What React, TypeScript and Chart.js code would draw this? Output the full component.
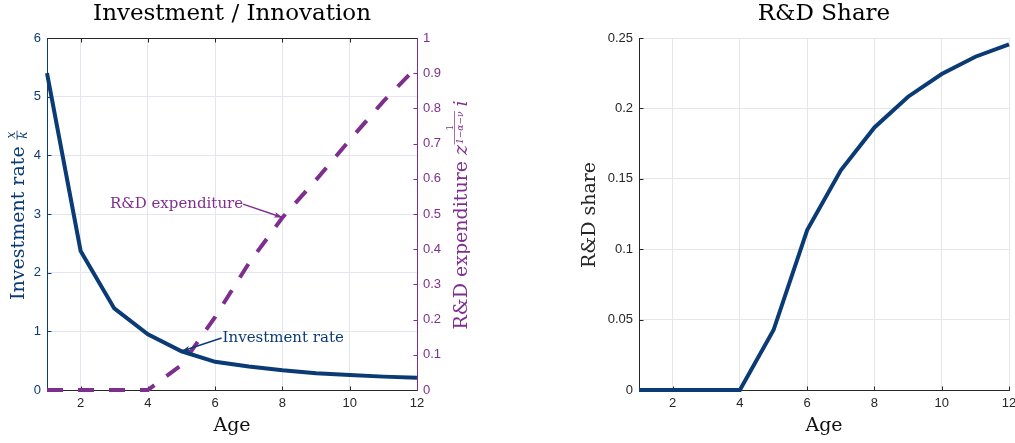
import React, { useEffect, useRef } from "react";
import { Chart, registerables } from "chart.js";

Chart.register(...registerables);

// ---------- data ----------
const ages = [1, 2, 3, 4, 5, 6, 7, 8, 9, 10, 11, 12];
const investmentRate = [5.4, 2.37, 1.39, 0.95, 0.66, 0.48, 0.4, 0.335, 0.285, 0.255, 0.228, 0.21];
const rdExpenditure = [0, 0, 0, 0, 0.071, 0.208, 0.36, 0.49, 0.597, 0.71, 0.82, 0.918];
const rdShare = [0, 0, 0, 0, 0.0426, 0.1136, 0.156, 0.1865, 0.2083, 0.2244, 0.2367, 0.2455];

const ageTicks = [2, 4, 6, 8, 10, 12];
const investTicks = [0, 1, 2, 3, 4, 5, 6];
const rdExpTicks = [0, 0.1, 0.2, 0.3, 0.4, 0.5, 0.6, 0.7, 0.8, 0.9, 1];
const rdShareTicks = [0, 0.05, 0.1, 0.15, 0.2, 0.25];

const leftTitle = "Investment / Innovation";
const rightTitle = "R&D Share";
const xTitle = "Age";
const leftYTitle = "Investment rate ";
const rightY1Title = "R&D expenditure ";
const shareYTitle = "R&D share";

// annotation text anchors (data coordinates); arrow tips come from the series
const rdNote = { text: "R&D expenditure", x: 6.83, y: 0.528, tipIndex: 7 };
const invNote = { text: "Investment rate", x: 6.22, y: 0.886, tipIndex: 4 };

// ---------- styles ----------
const BLUE = "#0b3b75";
const PURPLE = "#7e2f8e";
const DARK = "#262626";
const GRID_L = "#e3e7ed";
const GRID_R = "#e6e6e6";
const SERIF = '"DejaVu Serif"';
const SANS = '"Liberation Sans", Arial, sans-serif';
const TICK_FONT = { family: SANS, size: 13 };
const AXT = 19;

function pts(ys: number[]) {
  return ages.map((a, i) => ({ x: a, y: ys[i] }));
}

function fixTicks(values: number[]) {
  return (scale: any) => {
    scale.ticks = values.map((v) => ({ value: v }));
  };
}
function fixWidth(w: number) {
  return (scale: any) => {
    scale.width = w;
    scale.paddingTop = 0;
    scale.paddingBottom = 0;
  };
}
function fixHeight(h: number) {
  return (scale: any) => {
    scale.height = h;
    scale.paddingLeft = 0;
    scale.paddingRight = 0;
  };
}

function seg(ctx: CanvasRenderingContext2D, x1: number, y1: number, x2: number, y2: number, color: string) {
  ctx.strokeStyle = color;
  ctx.beginPath();
  ctx.moveTo(x1, y1);
  ctx.lineTo(x2, y2);
  ctx.stroke();
}
const al = (v: number) => Math.round(v) + 0.5;

function drawRotatedSimple(ctx: CanvasRenderingContext2D, text: string, baseX: number, cy: number, color: string) {
  ctx.save();
  ctx.translate(baseX, cy);
  ctx.rotate(-Math.PI / 2);
  ctx.fillStyle = color;
  ctx.font = `${AXT}px ${SERIF}`;
  ctx.textAlign = "center";
  ctx.textBaseline = "alphabetic";
  ctx.fillText(text, 0, 0);
  ctx.restore();
}

function drawInvestTitle(ctx: CanvasRenderingContext2D, baseX: number, cy: number) {
  ctx.save();
  ctx.translate(baseX, cy);
  ctx.rotate(-Math.PI / 2);
  ctx.fillStyle = BLUE;
  ctx.strokeStyle = BLUE;
  ctx.textBaseline = "alphabetic";
  ctx.textAlign = "left";
  const main = `${AXT}px ${SERIF}`;
  const small = `italic 12px ${SERIF}`;
  ctx.font = main;
  const w1 = ctx.measureText(leftYTitle).width;
  ctx.font = small;
  const fw = Math.max(ctx.measureText("x").width, ctx.measureText("k").width) + 3;
  let x = -(w1 + fw) / 2;
  ctx.font = main;
  ctx.fillText(leftYTitle, x, 0);
  x += w1;
  const barY = -6.5;
  ctx.font = small;
  ctx.textAlign = "center";
  ctx.fillText("x", x + fw / 2, barY - 1.8);
  ctx.textBaseline = "top";
  ctx.fillText("k", x + fw / 2, barY + 1.2);
  ctx.lineWidth = 0.8;
  seg(ctx, x + 0.5, barY, x + fw - 0.5, barY, BLUE);
  ctx.restore();
}

function drawRdTitle(ctx: CanvasRenderingContext2D, baseX: number, cy: number) {
  ctx.save();
  ctx.translate(baseX, cy);
  ctx.rotate(-Math.PI / 2);
  ctx.fillStyle = PURPLE;
  ctx.textBaseline = "alphabetic";
  ctx.textAlign = "left";
  const main = `${AXT}px ${SERIF}`;
  const it = `italic ${AXT}px ${SERIF}`;
  const small = `9px ${SERIF}`;
  const smallIt = `italic 9px ${SERIF}`;
  const den = "1\u2212\u03b1\u2212\u03bd";
  ctx.font = main;
  const w1 = ctx.measureText(rightY1Title).width;
  ctx.font = it;
  const wz = ctx.measureText("z").width;
  const wi = ctx.measureText("i").width;
  ctx.font = smallIt;
  const wf = ctx.measureText(den).width + 2;
  const gap = 4;
  const total = w1 + wz + wf + gap + wi;
  let x = -total / 2;
  ctx.font = main;
  ctx.fillText(rightY1Title, x, 0);
  x += w1;
  ctx.font = it;
  ctx.fillText("z", x, 0);
  x += wz;
  const barY = -12.5;
  ctx.lineWidth = 0.7;
  seg(ctx, x + 0.5, barY, x + wf - 0.5, barY, PURPLE);
  ctx.textAlign = "center";
  ctx.font = small;
  ctx.fillText("1", x + wf / 2, barY - 1.2);
  ctx.font = smallIt;
  ctx.textBaseline = "top";
  ctx.fillText(den, x + wf / 2, barY + 1.2);
  x += wf + gap;
  ctx.textAlign = "left";
  ctx.textBaseline = "alphabetic";
  ctx.font = it;
  ctx.fillText("i", x, 0);
  ctx.restore();
}

function drawArrow(ctx: CanvasRenderingContext2D, sx: number, sy: number, tx: number, ty: number, color: string) {
  ctx.save();
  ctx.strokeStyle = color;
  ctx.fillStyle = color;
  ctx.lineWidth = 1.5;
  ctx.beginPath();
  ctx.moveTo(sx, sy);
  ctx.lineTo(tx, ty);
  ctx.stroke();
  const ang = Math.atan2(ty - sy, tx - sx);
  const len = 9;
  const spread = 0.32;
  ctx.beginPath();
  ctx.moveTo(tx, ty);
  ctx.lineTo(tx - len * Math.cos(ang - spread), ty - len * Math.sin(ang - spread));
  ctx.lineTo(tx - len * 0.7 * Math.cos(ang), ty - len * 0.7 * Math.sin(ang));
  ctx.lineTo(tx - len * Math.cos(ang + spread), ty - len * Math.sin(ang + spread));
  ctx.closePath();
  ctx.fill();
  ctx.restore();
}

const leftPlugin = {
  id: "leftDecor",
  beforeDatasetsDraw(chart: any) {
    const { ctx, chartArea: a, scales } = chart;
    const L = al(a.left), R = al(a.right), T = al(a.top), B = al(a.bottom);
    ctx.save();
    ctx.lineWidth = 1;
    const tl = 4;
    ageTicks.forEach((v) => {
      const px = al(scales.x.getPixelForValue(v));
      seg(ctx, px, B, px, B - tl, DARK);
      seg(ctx, px, T, px, T + tl, DARK);
    });
    investTicks.forEach((v) => {
      const py = al(scales.y.getPixelForValue(v));
      seg(ctx, L, py, L + tl, py, BLUE);
    });
    rdExpTicks.forEach((v) => {
      const py = al(scales.y1.getPixelForValue(v));
      seg(ctx, R, py, R - tl, py, PURPLE);
    });
    seg(ctx, L, T, R, T, DARK);
    seg(ctx, L, B, R, B, DARK);
    seg(ctx, L, T, L, B, BLUE);
    seg(ctx, R, T, R, B, PURPLE);
    ctx.restore();
  },
  afterDraw(chart: any) {
    const { ctx, chartArea: a, scales } = chart;
    const cy = (a.top + a.bottom) / 2;
    drawInvestTitle(ctx, 23.5, cy + 1);
    drawRdTitle(ctx, 467, cy + 1);

    ctx.save();
    ctx.font = `15px ${SERIF}`;
    ctx.textBaseline = "middle";
    // R&D expenditure note
    const rx = scales.x.getPixelForValue(rdNote.x);
    const ry = scales.y1.getPixelForValue(rdNote.y);
    ctx.fillStyle = PURPLE;
    ctx.textAlign = "right";
    ctx.fillText(rdNote.text, rx, ry);
    drawArrow(
      ctx, rx, ry,
      scales.x.getPixelForValue(ages[rdNote.tipIndex]),
      scales.y1.getPixelForValue(rdExpenditure[rdNote.tipIndex]),
      PURPLE
    );
    // Investment rate note
    const ix = scales.x.getPixelForValue(invNote.x);
    const iy = scales.y.getPixelForValue(invNote.y);
    ctx.fillStyle = BLUE;
    ctx.textAlign = "left";
    ctx.fillText(invNote.text, ix, iy);
    drawArrow(
      ctx, ix - 1, iy,
      scales.x.getPixelForValue(ages[invNote.tipIndex]),
      scales.y.getPixelForValue(investmentRate[invNote.tipIndex]),
      BLUE
    );
    ctx.restore();
  },
};

const rightPlugin = {
  id: "rightDecor",
  beforeDatasetsDraw(chart: any) {
    const { ctx, chartArea: a, scales } = chart;
    const L = al(a.left), B = al(a.bottom), T = al(a.top), R = al(a.right);
    ctx.save();
    ctx.lineWidth = 1;
    const tl = 4;
    ageTicks.forEach((v) => {
      const px = al(scales.x.getPixelForValue(v));
      seg(ctx, px, B, px, B - tl, DARK);
    });
    rdShareTicks.forEach((v) => {
      const py = al(scales.y.getPixelForValue(v));
      seg(ctx, L, py, L + tl, py, DARK);
    });
    seg(ctx, L, B, R, B, DARK);
    seg(ctx, L, T, L, B, DARK);
    ctx.restore();
  },
  afterDraw(chart: any) {
    const { ctx, chartArea: a } = chart;
    drawRotatedSimple(ctx, shareYTitle, 35, (a.top + a.bottom) / 2 + 1, DARK);
  },
};

function leftConfig(): any {
  return {
    type: "line",
    data: {
      datasets: [
        {
          data: pts(investmentRate),
          yAxisID: "y",
          borderColor: BLUE,
          borderWidth: 4,
          pointRadius: 0,
          tension: 0,
          clip: 6,
        },
        {
          data: pts(rdExpenditure),
          yAxisID: "y1",
          borderColor: PURPLE,
          borderWidth: 4,
          borderDash: [16, 15],
          borderCapStyle: "butt",
          pointRadius: 0,
          tension: 0,
          clip: 6,
        },
      ],
    },
    options: {
      responsive: false,
      animation: false,
      layout: { padding: 0 },
      plugins: {
        legend: { display: false },
        tooltip: { enabled: false },
        title: {
          display: true,
          fullSize: false,
          text: leftTitle,
          color: "#000",
          font: { family: SERIF, size: 23, weight: "normal", lineHeight: 1.2 },
          padding: { top: 0, bottom: 10.4 },
        },
      },
      scales: {
        x: {
          type: "linear",
          min: 1,
          max: 12,
          afterBuildTicks: fixTicks(ageTicks),
          afterFit: fixHeight(53),
          grid: { color: GRID_L, drawTicks: false },
          border: { color: DARK },
          ticks: { color: DARK, font: TICK_FONT, padding: 6, callback: (v: any) => String(v), maxRotation: 0 },
          title: {
            display: true,
            text: xTitle,
            color: "#111",
            font: { family: SERIF, size: 19, lineHeight: 1.2 },
            padding: { top: 0, bottom: 5.5 },
          },
        },
        y: {
          type: "linear",
          position: "left",
          min: 0,
          max: 6,
          afterBuildTicks: fixTicks(investTicks),
          afterFit: fixWidth(47),
          grid: { color: GRID_L, drawTicks: false },
          border: { color: BLUE },
          ticks: { color: BLUE, font: TICK_FONT, padding: 6, callback: (v: any) => String(v) },
        },
        y1: {
          type: "linear",
          position: "right",
          min: 0,
          max: 1,
          afterBuildTicks: fixTicks(rdExpTicks),
          afterFit: fixWidth(53),
          grid: { display: false, drawTicks: false },
          border: { color: PURPLE },
          ticks: { color: PURPLE, font: TICK_FONT, padding: 6, callback: (v: any) => String(v) },
        },
      },
    },
    plugins: [leftPlugin],
  };
}

function rightConfig(): any {
  return {
    type: "line",
    data: {
      datasets: [
        {
          data: pts(rdShare),
          borderColor: BLUE,
          borderWidth: 4,
          pointRadius: 0,
          tension: 0,
          clip: 6,
        },
      ],
    },
    options: {
      responsive: false,
      animation: false,
      layout: { padding: { right: 6 } },
      plugins: {
        legend: { display: false },
        tooltip: { enabled: false },
        title: {
          display: true,
          fullSize: false,
          text: rightTitle,
          color: "#000",
          font: { family: SERIF, size: 23, weight: "normal", lineHeight: 1.2 },
          padding: { top: 0, bottom: 10.4 },
        },
      },
      scales: {
        x: {
          type: "linear",
          min: 1,
          max: 12,
          afterBuildTicks: fixTicks(ageTicks),
          afterFit: fixHeight(53),
          grid: { color: GRID_R, drawTicks: false },
          border: { color: DARK },
          ticks: { color: DARK, font: TICK_FONT, padding: 6, callback: (v: any) => String(v), maxRotation: 0 },
          title: {
            display: true,
            text: xTitle,
            color: "#111",
            font: { family: SERIF, size: 19, lineHeight: 1.2 },
            padding: { top: 0, bottom: 5.5 },
          },
        },
        y: {
          type: "linear",
          min: 0,
          max: 0.25,
          afterBuildTicks: fixTicks(rdShareTicks),
          afterFit: fixWidth(79),
          grid: { color: GRID_R, drawTicks: false },
          border: { color: DARK },
          ticks: { color: DARK, font: TICK_FONT, padding: 6, callback: (v: any) => String(v) },
        },
      },
    },
    plugins: [rightPlugin],
  };
}

export default function App() {
  const leftRef = useRef<HTMLCanvasElement>(null);
  const rightRef = useRef<HTMLCanvasElement>(null);
  useEffect(() => {
    const c1 = new Chart(leftRef.current as HTMLCanvasElement, leftConfig());
    const c2 = new Chart(rightRef.current as HTMLCanvasElement, rightConfig());
    return () => {
      c1.destroy();
      c2.destroy();
    };
  }, []);
  return (
    <div style={{ position: "fixed", left: 0, top: 0, width: 1015, height: 443, background: "#fff", overflow: "hidden" }}>
      <canvas ref={leftRef} width={470} height={443} style={{ position: "absolute", left: 0, top: 0 }} />
      <canvas ref={rightRef} width={455} height={443} style={{ position: "absolute", left: 560, top: 0 }} />
    </div>
  );
}
